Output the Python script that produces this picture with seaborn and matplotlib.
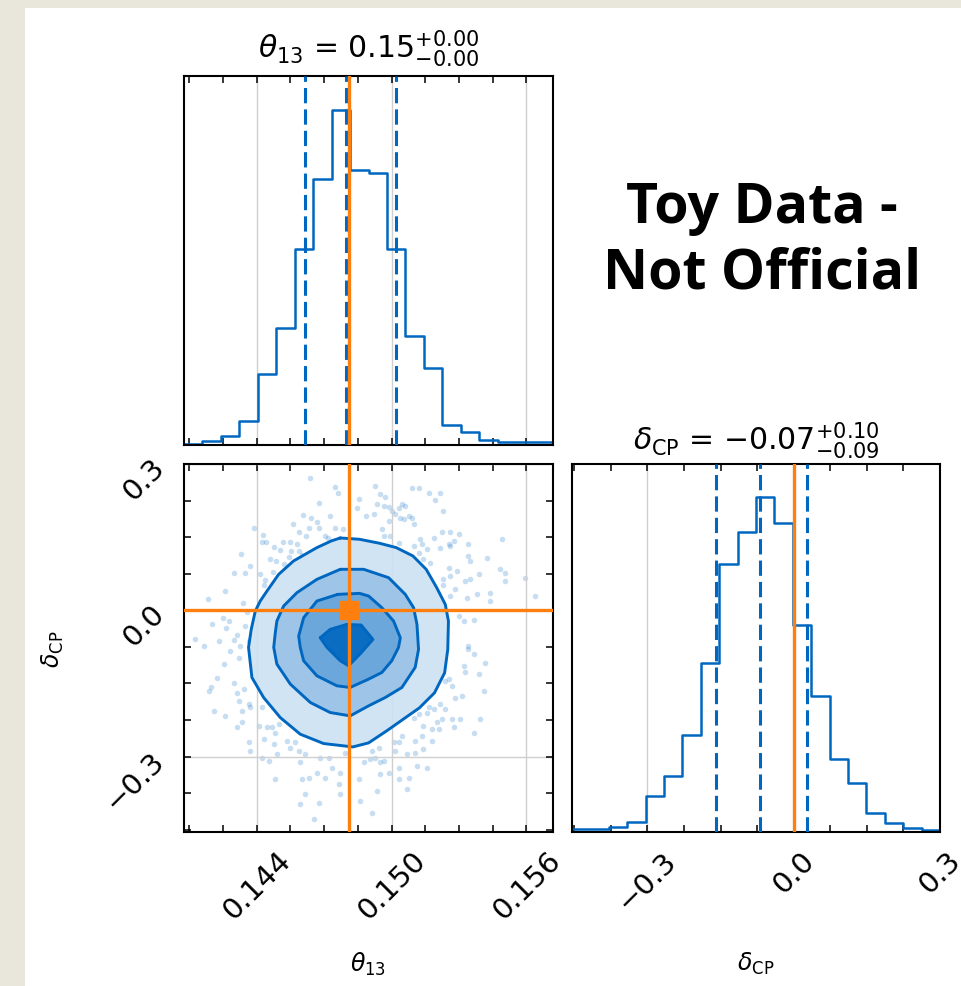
import numpy as np
import pandas as pd
import seaborn as sns
import matplotlib.pyplot as plt
from matplotlib.patches import Rectangle
from matplotlib.ticker import FixedLocator, MultipleLocator, NullLocator, FuncFormatter

sns.set_theme(style="white")
plt.rcParams["font.family"] = ["DejaVu Sans"]
plt.rcParams["mathtext.fontset"] = "dejavusans"
for key in ("text.color", "axes.labelcolor", "xtick.color", "ytick.color"):
    plt.rcParams[key] = "black"

# ---------------- data ----------------
theta_range = (0.14077, 0.15718)
delta_range = (-0.4548, 0.3004)

theta_counts = [1, 4, 9, 24, 71, 117, 196, 266, 335, 275,
                272, 196, 109, 77, 20, 13, 5, 3, 3, 3]
delta_counts = [3, 3, 5, 10, 34, 54, 93, 162, 256, 287,
                320, 296, 198, 130, 70, 47, 18, 9, 4, 2]

theta_quantiles = [0.14613, 0.14799, 0.15018]
delta_quantiles = [-0.160, -0.069, 0.028]
truth_theta = 0.1481
truth_delta = 0.0

theta_ticks = [0.144, 0.150, 0.156]
delta_ticks = [-0.3, 0.0, 0.3]

# credible-region contours (outer -> core)
outer_theta = [0.14772, 0.14858, 0.14947, 0.15021, 0.15095, 0.15154, 0.15200, 0.15239,
               0.15253, 0.15250, 0.15236, 0.15191, 0.15124, 0.15050, 0.14976, 0.14898,
               0.14828, 0.14698, 0.14594, 0.14505, 0.14431, 0.14379, 0.14364, 0.14376,
               0.14394, 0.14416, 0.14446, 0.14498, 0.14564, 0.14668, 0.14732]
outer_delta = [0.1486, 0.1459, 0.1377, 0.1288, 0.1117, 0.0843, 0.0473, 0.0123,
               -0.0219, -0.0801, -0.1281, -0.1692, -0.2000, -0.2240, -0.2480, -0.2719,
               -0.2802, -0.2733, -0.2541, -0.2199, -0.1788, -0.1377, -0.0760, -0.0390,
               -0.0014, 0.0192, 0.0397, 0.0740, 0.1014, 0.1288, 0.1425]
mid_theta = [0.14772, 0.14876, 0.14987, 0.15061, 0.15098, 0.15113, 0.15120, 0.15105,
             0.15046, 0.14972, 0.14898, 0.14816, 0.14727, 0.14639, 0.14550, 0.14490,
             0.14476, 0.14483, 0.14490, 0.14520, 0.14579, 0.14668]
mid_delta = [0.0843, 0.0843, 0.0671, 0.0329, 0.0055, -0.0288, -0.0801, -0.1171,
             -0.1582, -0.1788, -0.1959, -0.2165, -0.2096, -0.1891, -0.1514, -0.1103,
             -0.0760, -0.0459, -0.0219, 0.0089, 0.0363, 0.0637]
inner_theta = [0.14761, 0.14858, 0.14898, 0.14957, 0.15009, 0.15039, 0.15031, 0.15001,
               0.14957, 0.14898, 0.14816, 0.14757, 0.14668, 0.14609, 0.14594, 0.14587,
               0.14609, 0.14668]
inner_delta = [0.0329, 0.0349, 0.0295, 0.0055, -0.0219, -0.0562, -0.0760, -0.1034,
               -0.1274, -0.1411, -0.1582, -0.1548, -0.1343, -0.1034, -0.0760, -0.0527,
               -0.0151, 0.0192]
core_theta = [0.14683, 0.14727, 0.14801, 0.14865, 0.14917, 0.14865, 0.14809, 0.14772, 0.14713]
core_delta = [-0.0562, -0.0390, -0.0288, -0.0301, -0.0596, -0.0870, -0.1137, -0.1034, -0.0760]

# samples lying outside the outer contour
sample_theta = [
    0.14636, 0.14750, 0.14760, 0.14854, 0.14846, 0.14888, 0.14676, 0.14606, 0.14642, 0.14669,
    0.14728, 0.14562, 0.14632, 0.14676, 0.14750, 0.14784, 0.14587, 0.14706, 0.14716, 0.14387,
    0.14429, 0.14424, 0.14443, 0.14517, 0.14547, 0.14580, 0.14621, 0.14479, 0.14506, 0.14553,
    0.14587, 0.14602, 0.14458, 0.14488, 0.14520, 0.14543, 0.14331, 0.14372, 0.14298, 0.14350,
    0.14417, 0.14439, 0.14473, 0.14432, 0.14261, 0.14340, 0.14183, 0.14251, 0.14276, 0.14266,
    0.14202, 0.14313, 0.14350, 0.14355, 0.14128, 0.14298, 0.14232, 0.14165, 0.14328, 0.14365,
    0.14928, 0.14950, 0.14972, 0.14935, 0.14965, 0.14987, 0.14920, 0.15002, 0.15031, 0.15046,
    0.15061, 0.15017, 0.15039, 0.15076, 0.15091, 0.15054, 0.15098, 0.14987, 0.14957, 0.14965,
    0.14994, 0.15031, 0.15091, 0.15120, 0.15165, 0.15217, 0.15194, 0.15231, 0.15187, 0.15224,
    0.15261, 0.15298, 0.15128, 0.15135, 0.15098, 0.15157, 0.15120, 0.15142, 0.15172, 0.15217,
    0.15254, 0.15276, 0.15261, 0.15342, 0.15342, 0.15350, 0.15424, 0.15491, 0.15254, 0.15291,
    0.15261, 0.15231, 0.15328, 0.15350, 0.15387, 0.15483, 0.15505, 0.15505, 0.15594, 0.15283,
    0.15261, 0.15335, 0.15379, 0.15439, 0.15439, 0.15639, 0.15298, 0.15320, 0.15365, 0.15342,
    0.15231,
    0.14283, 0.14320, 0.14254, 0.14224, 0.14195, 0.14298, 0.14343, 0.14313, 0.14187, 0.14320,
    0.14365, 0.14372, 0.14335, 0.14424, 0.14209, 0.14261, 0.14313, 0.14335, 0.14409, 0.14446,
    0.14498, 0.14469, 0.14483, 0.14432, 0.14365, 0.14476, 0.14535, 0.14572, 0.14550, 0.14587,
    0.14617, 0.14491, 0.14372, 0.14424, 0.14454, 0.14595, 0.14683, 0.14720, 0.14795, 0.14735,
    0.14772, 0.14669, 0.14602, 0.14632, 0.14706, 0.14483, 0.14617, 0.14595, 0.14676, 0.14765,
    0.14772, 0.14654, 0.14854, 0.14876, 0.14861,
    0.15342, 0.15365, 0.15417, 0.15320, 0.15328, 0.15387, 0.15254, 0.15239, 0.15268, 0.15409,
    0.15313, 0.15283, 0.15217, 0.15187, 0.15165, 0.15239, 0.15120, 0.15157, 0.15224, 0.15268,
    0.15305, 0.15394, 0.15365, 0.15276, 0.15202, 0.15209, 0.15179, 0.15142, 0.15098, 0.15046,
    0.15179, 0.15135, 0.15105, 0.15009, 0.15031, 0.15142, 0.15105, 0.15068, 0.15017, 0.14942,
    0.14913, 0.14928, 0.14965, 0.14950, 0.14905, 0.15031, 0.15113, 0.15157, 0.14987, 0.14950,
    0.15076, 0.15031, 0.15068, 0.14935, 0.14913]
sample_delta = [
    0.271, 0.253, 0.240, 0.228, 0.211, 0.194, 0.221, 0.196, 0.189, 0.182,
    0.194, 0.178, 0.170, 0.170, 0.170, 0.166, 0.160, 0.153, 0.148, 0.170,
    0.155, 0.141, 0.141, 0.141, 0.141, 0.136, 0.153, 0.131, 0.123, 0.121,
    0.121, 0.114, 0.105, 0.101, 0.096, 0.110, 0.115, 0.091, 0.077, 0.077,
    0.074, 0.062, 0.079, 0.053, 0.040, 0.016, 0.023, -0.016, -0.021, -0.036,
    -0.027, -0.051, -0.032, -0.003, -0.058, -0.060, -0.063, -0.073, -0.073, -0.063,
    0.256, 0.238, 0.232, 0.218, 0.214, 0.212, 0.197, 0.204, 0.211, 0.218,
    0.214, 0.197, 0.190, 0.194, 0.190, 0.187, 0.177, 0.184, 0.166, 0.153,
    0.153, 0.139, 0.252, 0.252, 0.240, 0.240, 0.226, 0.204, 0.149, 0.160,
    0.160, 0.156, 0.146, 0.136, 0.132, 0.125, 0.118, 0.105, 0.098, 0.129,
    0.136, 0.142, 0.132, 0.136, 0.112, 0.101, 0.108, 0.146, 0.088, 0.081,
    0.071, 0.064, 0.060, 0.064, 0.074, 0.084, 0.077, 0.060, 0.067, 0.043,
    0.029, 0.026, 0.033, 0.036, 0.019, 0.029, -0.012, -0.022, -0.019, -0.073,
    0.053,
    -0.083, -0.097, -0.110, -0.138, -0.158, -0.148, -0.162, -0.169, -0.165, -0.186,
    -0.193, -0.199, -0.206, -0.199, -0.206, -0.216, -0.240, -0.230, -0.237, -0.240,
    -0.234, -0.240, -0.251, -0.264, -0.271, -0.275, -0.268, -0.271, -0.282, -0.288,
    -0.295, -0.295, -0.288, -0.302, -0.309, -0.312, -0.302, -0.302, -0.292, -0.323,
    -0.333, -0.333, -0.347, -0.343, -0.343, -0.347, -0.377, -0.398, -0.395, -0.357,
    -0.377, -0.429, -0.347, -0.312, -0.391,
    -0.079, -0.090, -0.107, -0.114, -0.127, -0.131, -0.141, -0.145, -0.155, -0.165,
    -0.175, -0.179, -0.193, -0.203, -0.199, -0.203, -0.213, -0.210, -0.223, -0.223,
    -0.223, -0.223, -0.251, -0.240, -0.230, -0.244, -0.244, -0.237, -0.220, -0.258,
    -0.268, -0.258, -0.268, -0.271, -0.271, -0.285, -0.292, -0.295, -0.288, -0.282,
    -0.288, -0.302, -0.309, -0.312, -0.306, -0.323, -0.319, -0.323, -0.333, -0.336,
    -0.343, -0.347, -0.367, -0.371, -0.415]

# ---------------- styling ----------------
BLUE = (0 / 255, 103 / 255, 192 / 255)
ORANGE = "#ff7f0e"
GRID = "#cfcfcf"
TICK_FS = 21
TITLE_FS = 21.5
LABEL_FS = 17


def blend(alpha):
    return tuple(1 - alpha * (1 - c) for c in BLUE)


def signed(v, fmt):
    return format(v, fmt).replace("-", "\u2212")


def style_axis(ax, xticks, xminor, xfmt, yticks=None, yminor=None, yfmt=None):
    ax.xaxis.set_major_locator(FixedLocator(xticks))
    ax.xaxis.set_minor_locator(MultipleLocator(xminor))
    ax.xaxis.set_major_formatter(FuncFormatter(lambda v, p: signed(v, xfmt)))
    if yticks is None:
        ax.yaxis.set_major_locator(NullLocator())
        ax.yaxis.set_minor_locator(NullLocator())
    else:
        ax.yaxis.set_major_locator(FixedLocator(yticks))
        ax.yaxis.set_minor_locator(MultipleLocator(yminor))
        ax.yaxis.set_major_formatter(FuncFormatter(lambda v, p: signed(v, yfmt)))
    ax.tick_params(which="both", direction="in", top=True, right=True,
                   bottom=True, left=True, length=5, width=1.1, color="black",
                   labelsize=TICK_FS, pad=10)
    for s in ax.spines.values():
        s.set_color("black")
        s.set_linewidth(1.5)
    ax.set_axisbelow("line")
    ax.grid(True, which="major", color=GRID, linewidth=1.0)
    ax.set_xlabel("")
    ax.set_ylabel("")


def hist_panel(ax, counts, lo, hi, quantiles, truth):
    edges = list(np.linspace(lo, hi, len(counts) + 1))
    centers = [0.5 * (a + b) for a, b in zip(edges[:-1], edges[1:])]
    df = pd.DataFrame({"value": centers, "count": counts})
    sns.histplot(data=df, x="value", weights="count", bins=edges, element="step",
                 fill=False, color=BLUE, linewidth=1.8, ax=ax)
    for q in quantiles:
        ax.axvline(q, color=BLUE, linestyle=(0, (5, 2)), linewidth=2.2, zorder=3)
    ax.axvline(truth, color=ORANGE, linewidth=2.4, zorder=4)
    ax.set_xlim(lo, hi)
    ax.set_ylim(0, 1.1 * max(counts))


fig = plt.figure(figsize=(9.61, 9.87), dpi=100, facecolor="#e9e6dc")
fig.patches.append(Rectangle((25 / 961, 0), 1, 1 - 9 / 987, transform=fig.transFigure,
                             facecolor="white", edgecolor="none", zorder=-5))

W, H = 369 / 961, 369 / 987
ax_t = fig.add_axes([184 / 961, 1 - 446 / 987, W, H])
ax_2d = fig.add_axes([184 / 961, 1 - 833 / 987, W, 368 / 987])
ax_d = fig.add_axes([572 / 961, 1 - 833 / 987, 368 / 961, 368 / 987])

# theta13 marginal
hist_panel(ax_t, theta_counts, *theta_range, theta_quantiles, truth_theta)
style_axis(ax_t, theta_ticks, 0.0015, ".3f")
ax_t.tick_params(labelbottom=False)
m, lo, hi = theta_quantiles[1], theta_quantiles[1] - theta_quantiles[0], theta_quantiles[2] - theta_quantiles[1]
ax_t.set_title(r"$\theta_{13}$ = $%.2f_{-%.2f}^{+%.2f}$" % (m, lo, hi), fontsize=TITLE_FS, pad=14)

# deltaCP marginal
hist_panel(ax_d, delta_counts, *delta_range, delta_quantiles, truth_delta)
style_axis(ax_d, delta_ticks, 0.075, ".1f")
m, lo, hi = delta_quantiles[1], delta_quantiles[1] - delta_quantiles[0], delta_quantiles[2] - delta_quantiles[1]
ax_d.set_title(r"$\delta_{\rm CP}$ = $%s_{-%.2f}^{+%.2f}$" % (signed(m, ".2f"), lo, hi),
               fontsize=TITLE_FS, pad=11)
ax_d.tick_params(axis="x", labelrotation=45)
ax_d.set_xlabel(r"$\delta_{\rm CP}$", fontsize=LABEL_FS)
ax_d.xaxis.set_label_coords(0.5, -0.32)

# joint panel
sns.scatterplot(x=sample_theta, y=sample_delta, s=16, color=BLUE, alpha=0.22,
                linewidth=0, ax=ax_2d, zorder=1)
ax_2d.fill(outer_theta, outer_delta, color="white", zorder=1.2, linewidth=0)
levels = [(outer_theta, outer_delta, 0.2), (mid_theta, mid_delta, 0.4),
          (inner_theta, inner_delta, 0.6), (core_theta, core_delta, 1.0)]
for xs, ys, a in levels:
    ax_2d.fill(xs, ys, color=blend(a), alpha=0.9, zorder=1.8, linewidth=0)
    ax_2d.plot(xs + xs[:1], ys + ys[:1], color=BLUE, linewidth=2.1, zorder=2)
ax_2d.axvline(truth_theta, color=ORANGE, linewidth=2.4, zorder=4)
ax_2d.axhline(truth_delta, color=ORANGE, linewidth=2.4, zorder=4)
ax_2d.plot([truth_theta], [truth_delta], "s", color=ORANGE, markersize=13, zorder=5)
ax_2d.set_xlim(*theta_range)
ax_2d.set_ylim(*delta_range)
style_axis(ax_2d, theta_ticks, 0.0015, ".3f", delta_ticks, 0.075, ".1f")
ax_2d.tick_params(axis="both", labelrotation=45)
ax_2d.set_xlabel(r"$\theta_{13}$", fontsize=LABEL_FS)
ax_2d.set_ylabel(r"$\delta_{\rm CP}$", fontsize=LABEL_FS)
ax_2d.xaxis.set_label_coords(0.5, -0.32)
ax_2d.yaxis.set_label_coords(-0.32, 0.5)

fig.text(762 / 961, 1 - 241 / 987, "Toy Data -\nNot Official", ha="center", va="center",
         fontsize=40, fontweight="bold", family=["Open Sans", "DejaVu Sans"],
         linespacing=1.25, color="black")

fig.savefig("out.png", dpi=100, facecolor=fig.get_facecolor())
